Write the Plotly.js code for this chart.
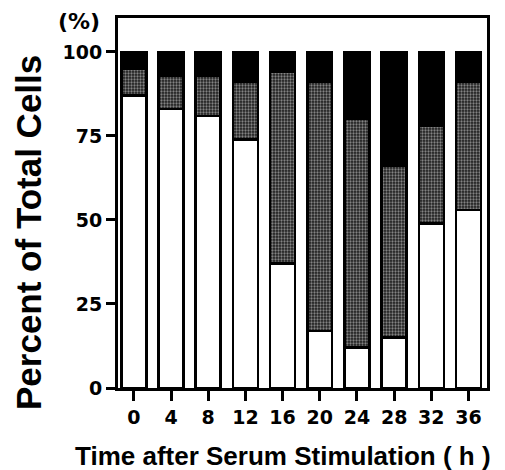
<!DOCTYPE html>
<html>
<head>
<meta charset="utf-8">
<script src="https://cdn.plot.ly/plotly-3.0.1.min.js"></script>
<style>html,body{margin:0;padding:0;background:#fff;}#chart{width:505px;height:470px;}</style>
</head>
<body>
<div id="chart"></div>
<script>
var categories = ["0", "4", "8", "12", "16", "20", "24", "28", "32", "36"];
var whiteSeg = [87, 83, 81, 74, 37, 17, 12, 15, 49, 53];
var graySeg  = [8, 10, 12, 17, 57, 74, 68, 51, 29, 38];
var blackSeg = [5, 7, 7, 9, 6, 9, 20, 34, 22, 9];
var yTickVals = [0, 25, 50, 75, 100];
var yTickText = ["0", "25", "50", "75", "100"];

var idx = categories.map(function (c, i) { return i; });
var line = {color: "#000", width: 2.5};

var traces = [
  {type: "bar", x: idx, y: whiteSeg, marker: {color: "#ffffff", line: line}, hoverinfo: "none"},
  {type: "bar", x: idx, y: graySeg, marker: {color: "#6e6e6e", line: line,
      pattern: {shape: ".", fgcolor: "#e8e8e8", bgcolor: "#1e1e1e", size: 3, solidity: 0.45, fillmode: "overlay"}}, hoverinfo: "none"},
  {type: "bar", x: idx, y: blackSeg, marker: {color: "#000000", line: line}, hoverinfo: "none"}
];

var tickFont = {family: "DejaVu Sans", size: 19, color: "#000", weight: 700};

var layout = {
  width: 505, height: 470,
  margin: {l: 118, r: 18, t: 18, b: 82, pad: 0},
  paper_bgcolor: "#fff", plot_bgcolor: "#fff",
  barmode: "stack", bargap: 0.33,
  showlegend: false,
  font: {family: "Liberation Sans", color: "#000"},
  xaxis: {
    range: [-0.425, 9.497], tickmode: "array", tickvals: idx, ticktext: categories,
    showgrid: false, zeroline: false, showline: true, linecolor: "#000", linewidth: 3, mirror: true,
    ticks: "outside", ticklen: 10, tickwidth: 3, tickcolor: "#000", tickfont: tickFont, fixedrange: true
  },
  yaxis: {
    range: [0, 110.1], tickmode: "array", tickvals: yTickVals, ticktext: yTickText,
    showgrid: false, zeroline: false, showline: true, linecolor: "#000", linewidth: 3, mirror: true,
    ticks: "outside", ticklen: 9, tickwidth: 3, tickcolor: "#000", tickfont: tickFont, fixedrange: true
  },
  annotations: [
    {text: "(%)", xref: "paper", yref: "paper", x: (79 - 118) / 369, y: (388 - 21) / 370,
     xanchor: "center", yanchor: "middle", showarrow: false,
     font: {family: "DejaVu Sans", size: 22, color: "#000", weight: 700}},
    {text: "Percent of Total Cells", xref: "paper", yref: "paper", x: (28 - 118) / 369, y: (388 - 233) / 370,
     xanchor: "center", yanchor: "middle", textangle: -90, showarrow: false,
     font: {family: "Liberation Sans", size: 35, color: "#000", weight: 700}},
    {text: "Time after Serum Stimulation ( h )", xref: "paper", yref: "paper", x: (283 - 118) / 369, y: (388 - 456) / 370,
     xanchor: "center", yanchor: "middle", showarrow: false,
     font: {family: "Liberation Sans", size: 26, color: "#000", weight: 700}}
  ]
};

Plotly.newPlot("chart", traces, layout, {staticPlot: true, displayModeBar: false});
</script>
</body>
</html>
